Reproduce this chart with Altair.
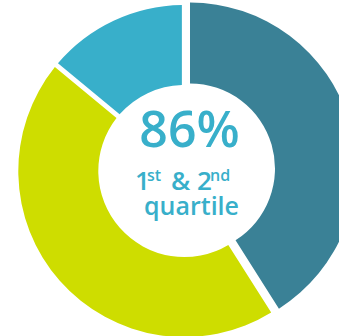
import altair as alt
import pandas as pd

# ---- data ----
segments = ["1st quartile", "2nd quartile", "3rd & 4th quartile"]
shares = [41, 45, 14]
seg_order = [0, 1, 2]
colors = ["#3a8196", "#cedd00", "#38afca"]

big_label = ["86%"]
sup_parts = ["1", "st", "& 2", "nd"]
line3 = ["quartile"]

df = pd.DataFrame({"segment": segments, "share": shares, "order": seg_order})

text_color = "#38afca"
font = "Open Sans"

base = alt.Chart(df).transform_stack(
    stack="share", groupby=[], as_=["start", "end"], sort=[alt.SortField("order")]
)

enc = dict(
    theta=alt.Theta("start:Q", scale=alt.Scale(domain=[0, 100], range=[0, 6.283185307179586])),
    theta2=alt.Theta2("end:Q"),
    color=alt.Color("segment:N", scale=alt.Scale(domain=segments, range=colors), legend=None),
)

others = base.transform_filter("datum.order != 0").mark_arc(
    outerRadius=166, innerRadius=86, padAngle=0.026
).encode(x=alt.value(184.3), y=alt.value(171), **enc)

lead = base.transform_filter("datum.order == 0").mark_arc(
    outerRadius=166, innerRadius=85
).encode(x=alt.value(190), y=alt.value(168.5), **enc)

one = alt.Data(values=[{}])

def label(txt, x, y, size, align="center", weight=600):
    return alt.Chart(one).mark_text(
        text=txt, font=font, fontSize=size, fontWeight=weight, color=text_color,
        align=align, baseline="alphabetic"
    ).encode(x=alt.value(x), y=alt.value(y))

t_big = label(big_label[0], 189.5, 147, 50)
t1 = label(sup_parts[0], 135, 190, 26, "left")
t2 = label(sup_parts[1], 147, 180.5, 16, "left")
t3 = label(sup_parts[2], 171, 190, 26, "left")
t4 = label(sup_parts[3], 210, 180.5, 16, "left")
t_q = label(line3[0], 191.5, 215, 25)

chart = alt.layer(others, lead, t_big, t1, t2, t3, t4, t_q).properties(
    width=339, height=336, padding=0, autosize=alt.AutoSizeParams(type="none")
).configure_view(stroke=None)

chart.save("out.html", embed_options={"renderer": "svg", "actions": False})
